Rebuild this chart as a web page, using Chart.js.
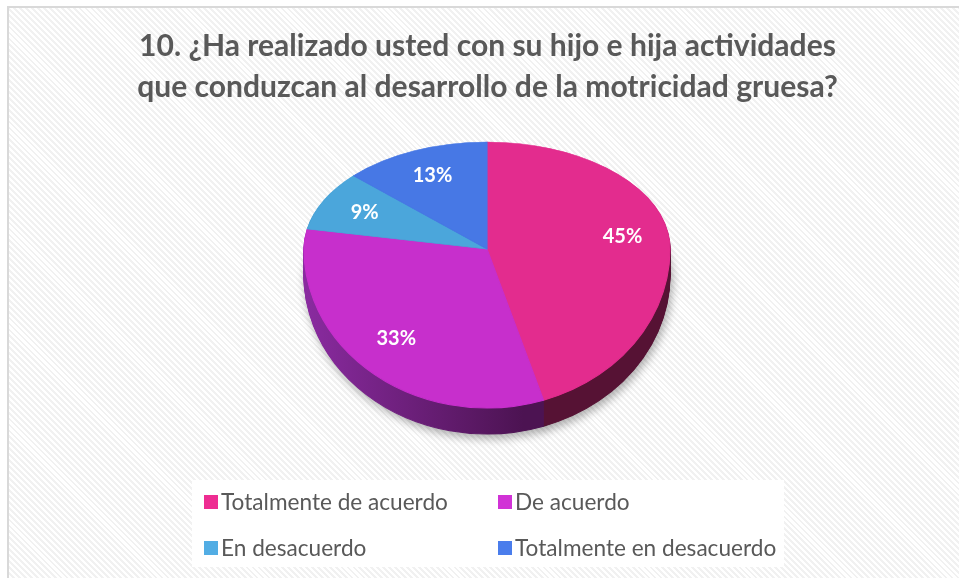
<!DOCTYPE html>
<html>
<head>
<meta charset="utf-8">
<script src="https://cdn.jsdelivr.net/npm/chart.js@4.4.1/dist/chart.umd.min.js"></script>
<style>
  html, body { margin: 0; padding: 0; background: #fff; overflow: hidden; }
  #frame {
    position: absolute; left: 7px; top: 6px; width: 1000px; height: 1000px;
    border-left: 2px solid #d9d9d9; border-top: 2px solid #d9d9d9;
    background: repeating-linear-gradient(45deg, #f1f1f1 0px, #f1f1f1 2px, #ffffff 2px, #ffffff 4.2px);
  }
  #wrap { position: absolute; left: 0; top: 0; width: 959px; height: 578px; }
</style>
</head>
<body>
<div id="frame"></div>
<div id="wrap"><canvas id="chart" width="959" height="578"></canvas></div>
<script>
const titleLines = ['10. ¿Ha realizado usted con su hijo e hija actividades', 'que conduzcan al desarrollo de la motricidad gruesa?'];
const categories = ['Totalmente de acuerdo', 'De acuerdo', 'En desacuerdo', 'Totalmente en desacuerdo'];
const percentages = [45, 33, 9, 13];
const sliceColors = ['#e32c8e', '#c72fcc', '#4ba6db', '#4778e5'];
const legendColors = ['#ee2d92', '#d132d6', '#52ade4', '#4a7dec'];
const sideColors = [['#601539', '#561234'], ['#8a2ba0', '#4c1352'], ['#2a5d7c', '#1f4a63'], ['#28468a', '#1e3670']];

// pie geometry on screen (perspective faked with two half ellipses)
const PIE = { cx: 487, cy: 249, rx: 183, ryTop: 107, ryBottom: 159, depth: 26 };

function fitFont(text, weight, family, targetWidth) {
    const c = document.createElement('canvas').getContext('2d');
    c.font = `${weight} 100px ${family}`;
    return 100 * targetWidth / c.measureText(text).width;
}

const FONT = 'Lato, "Open Sans", sans-serif';
const titleSize = fitFont(titleLines[0], 'bold', FONT, 697);
const legendSize = fitFont(categories[0], 'normal', FONT, 227);

function drawArcs(ctx, arcs, dy, fills, shadow) {
    const a0 = arcs[0];
    const R = a0.outerRadius;
    [[true, PIE.ryTop], [false, PIE.ryBottom]].forEach(([upper, ry]) => {
        ctx.save();
        ctx.beginPath();
        if (upper) ctx.rect(0, 0, 959, PIE.cy + dy);
        else ctx.rect(0, PIE.cy + dy, 959, 578);
        ctx.clip();
        ctx.translate(PIE.cx, PIE.cy + dy);
        ctx.scale(PIE.rx / R, ry / R);
        ctx.translate(-a0.x, -a0.y);
        if (shadow) {
            ctx.shadowColor = 'rgba(0,0,0,0.3)';
            ctx.shadowBlur = 8;
            ctx.shadowOffsetX = 2;
            ctx.shadowOffsetY = 4;
        }
        arcs.forEach((arc, i) => {
            if (fills) {
                const g = ctx.createLinearGradient(a0.x - R, 0, a0.x + R * 0.2, 0);
                g.addColorStop(0, fills[i][0]);
                g.addColorStop(1, fills[i][1]);
                const fake = Object.create(arc);
                fake.options = Object.assign({}, arc.options, { backgroundColor: g, borderColor: g, borderWidth: 1 });
                fake.draw(ctx);
            } else {
                arc.draw(ctx);
            }
        });
        ctx.restore();
    });
}

const pie3d = {
    id: 'pie3d',
    beforeDatasetsDraw(chart) {
        const ctx = chart.ctx;
        const arcs = chart.getDatasetMeta(0).data;
        for (let d = PIE.depth; d >= 1; d--) {
            drawArcs(ctx, arcs, d, sideColors, d === PIE.depth);
        }
        drawArcs(ctx, arcs, 0, null, false);
        return false;
    },
    afterDraw(chart) {
        const ctx = chart.ctx;
        const arcs = chart.getDatasetMeta(0).data;
        ctx.save();
        // percentage labels
        ctx.fillStyle = '#ffffff';
        ctx.font = `bold 20px ${FONT}`;
        ctx.textAlign = 'center';
        ctx.textBaseline = 'middle';
        arcs.forEach((arc, i) => {
            const mid = (arc.startAngle + arc.endAngle) / 2;
            const s = Math.sin(mid);
            const x = PIE.cx + Math.cos(mid) * PIE.rx * 0.75;
            const y = PIE.cy + s * (s < 0 ? PIE.ryTop : PIE.ryBottom) * 0.75;
            ctx.fillText(percentages[i] + '%', x, y);
        });
        // legend box
        ctx.fillStyle = '#ffffff';
        ctx.fillRect(192, 480, 592, 87);
        ctx.font = `${legendSize}px ${FONT}`;
        ctx.textAlign = 'left';
        const cols = [204, 498];
        const rows = [502, 548];
        categories.forEach((name, i) => {
            const x = cols[i % 2];
            const y = rows[Math.floor(i / 2)];
            ctx.fillStyle = legendColors[i];
            ctx.fillRect(x, y - 7, 14, 14);
            ctx.fillStyle = '#595959';
            ctx.fillText(name, x + 17, y + 1);
        });
        ctx.restore();
    }
};

new Chart(document.getElementById('chart'), {
    type: 'pie',
    data: {
        labels: categories,
        datasets: [{
            data: percentages,
            backgroundColor: sliceColors,
            borderColor: sliceColors,
            borderWidth: 1
        }]
    },
    options: {
        responsive: false,
        animation: false,
        layout: { padding: { left: 16, top: 0, bottom: 140 } },
        plugins: {
            legend: { display: false },
            tooltip: { enabled: false },
            title: {
                display: true,
                text: titleLines,
                color: '#595959',
                font: { family: FONT, weight: 'bold', size: titleSize, lineHeight: 41 / titleSize },
                padding: { top: 26, bottom: 10 }
            }
        }
    },
    plugins: [pie3d]
});
</script>
</body>
</html>
